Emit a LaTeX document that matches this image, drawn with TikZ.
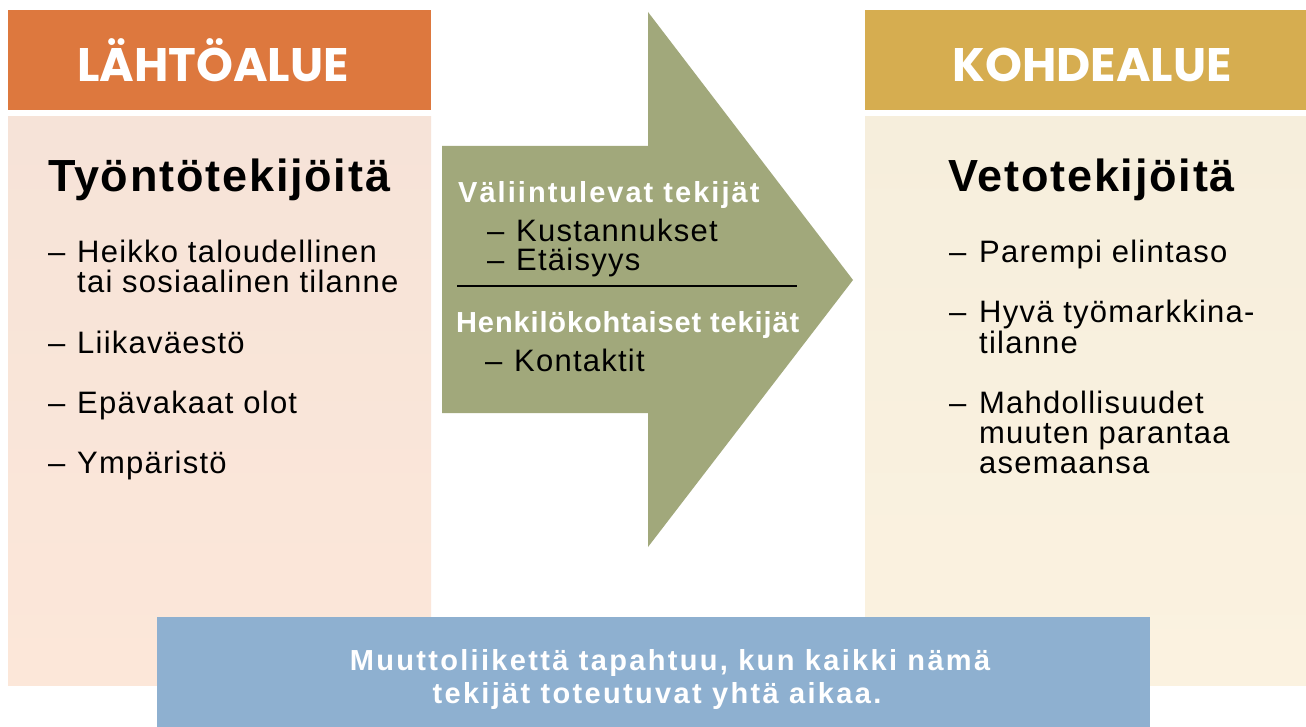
\documentclass[tikz,border=0pt]{standalone}
\usepackage{fontspec}
\setmainfont{Liberation Sans}
\newfontfamily\hdfont{Poppins}
\newfontfamily\itfont{Liberation Sans}[LetterSpace=4]
\newfontfamily\ttlfont{Liberation Sans}[LetterSpace=4]
\newfontfamily\subfontA{Liberation Sans}[LetterSpace=7]
\newfontfamily\subfontB{Liberation Sans}[LetterSpace=3]
\newfontfamily\botfont{Liberation Sans}[LetterSpace=8]
\definecolor{orangehd}{HTML}{DD783E}
\definecolor{goldhd}{HTML}{D6AD50}
\definecolor{peachtop}{HTML}{F6E3D8}
\definecolor{peachbot}{HTML}{FCE7D9}
\definecolor{creamtop}{HTML}{F6EEDC}
\definecolor{creambot}{HTML}{FBF2E0}
\definecolor{arrowgreen}{HTML}{A1A87B}
\definecolor{bluebox}{HTML}{8EB0D0}
\begin{document}
\begin{tikzpicture}[x=1pt,y=-1pt,
  hd/.style={font=\hdfont\bfseries\fontsize{47}{47}\selectfont, text=white, inner sep=0pt, anchor=base},
  ttl/.style={font=\ttlfont\bfseries\fontsize{45}{45}\selectfont, text=black, inner sep=0pt, anchor=base west},
  itm/.style={font=\itfont\fontsize{31}{31}\selectfont, text=black, inner sep=0pt, anchor=base west},
  subA/.style={font=\subfontA\bfseries\fontsize{29}{29}\selectfont, text=white, inner sep=0pt, anchor=base west},
  subB/.style={font=\subfontB\bfseries\fontsize{29}{29}\selectfont, text=white, inner sep=0pt, anchor=base west},
  bot/.style={font=\botfont\bfseries\fontsize{29}{29}\selectfont, text=white, inner sep=0pt, anchor=base},
  sepline/.style={draw=black, line width=1.5pt}
]
\useasboundingbox (0,0) rectangle (1306,727);
\fill[white] (0,0) rectangle (1306,727);

% left panel
\fill[orangehd] (8,10) rectangle (431,110);
\shade[top color=peachtop, bottom color=peachbot] (8,117) rectangle (431,685);
% right panel
\fill[goldhd] (865,10) rectangle (1306,110);
\shade[top color=creamtop, bottom color=creambot] (865,117) rectangle (1306,685);

% arrow
\fill[arrowgreen] (442,146) -- (648,146) -- (648,12) -- (853,280) -- (648,547) -- (648,413) -- (442,413) -- cycle;

% blue box
\fill[bluebox] (157,617) rectangle (1150,727);

% headers
\node[hd] (lhd) at (213,82) {LÄHTÖALUE};
\node[hd] (rhd) at (1092,82) {KOHDEALUE};

% left content
\node[ttl] (lttl) at (48,192) {Työntötekijöitä};
\node[itm] (l1d) at (48,263) {–};
\node[itm] (l1a) at (77,263) {Heikko taloudellinen};
\node[itm] (l1b) at (77,293) {tai sosiaalinen tilanne};
\node[itm] (l2d) at (48,353) {–};
\node[itm] (l2a) at (77,353) {Liikaväestö};
\node[itm] (l3d) at (48,413) {–};
\node[itm] (l3a) at (77,413) {Epävakaat olot};
\node[itm] (l4d) at (48,473) {–};
\node[itm] (l4a) at (77,473) {Ympäristö};

% right content
\node[ttl] (rttl) at (948,192) {Vetotekijöitä};
\node[itm] (r1d) at (949,263) {–};
\node[itm] (r1a) at (979,263) {Parempi elintaso};
\node[itm] (r2d) at (949,323) {–};
\node[itm] (r2a) at (979,323) {Hyvä työmarkkina-};
\node[itm] (r2b) at (979,353) {tilanne};
\node[itm] (r3d) at (949,413) {–};
\node[itm] (r3a) at (979,413) {Mahdollisuudet};
\node[itm] (r3b) at (979,443) {muuten parantaa};
\node[itm] (r3c) at (979,473) {asemaansa};

% middle content
\node[subA] (m1) at (458,203) {Väliintulevat tekijät};
\node[itm] (m1d) at (487,242) {–};
\node[itm] (m1a) at (516,242) {Kustannukset};
\node[itm] (m2d) at (487,271) {–};
\node[itm] (m2a) at (516,271) {Etäisyys};
\coordinate (sepL) at (457,286);
\coordinate (sepR) at (797,286);
\draw[sepline] (sepL) -- (sepR);
\node[subB] (m2) at (456,332) {Henkilökohtaiset tekijät};
\node[itm] (m3d) at (485,371) {–};
\node[itm] (m3a) at (514,371) {Kontaktit};

% bottom text
\node[bot] (b1) at (670,670) {Muuttoliikettä tapahtuu, kun kaikki nämä};
\node[bot] (b2) at (657,703) {tekijät toteutuvat yhtä aikaa.};
\end{tikzpicture}
\end{document}
